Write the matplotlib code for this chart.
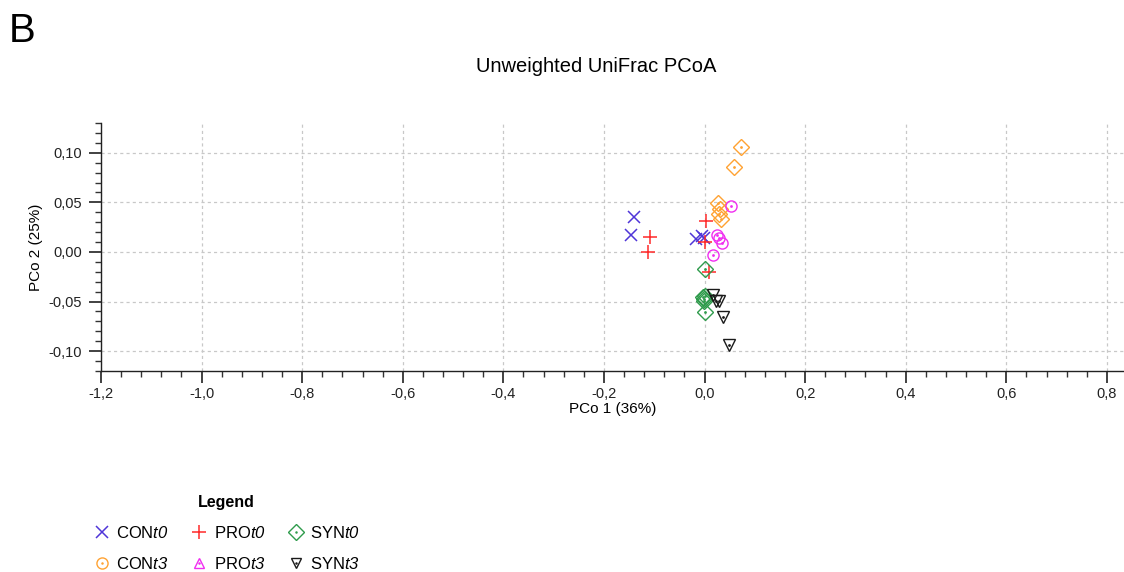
import matplotlib
matplotlib.use("Agg")
import matplotlib.pyplot as plt
from matplotlib.lines import Line2D
from matplotlib.ticker import MultipleLocator, FuncFormatter

plt.rcParams["font.family"] = ["Liberation Sans", "DejaVu Sans"]
plt.rcParams["mathtext.fontset"] = "custom"
plt.rcParams["mathtext.rm"] = "Liberation Sans"
plt.rcParams["mathtext.it"] = "Liberation Sans:italic"
# sans-serif math slot used for fully italic time-point suffixes
plt.rcParams["mathtext.sf"] = "Liberation Sans:italic"

# PCoA coordinates per group (PCo 1, PCo 2)
con_t0_x = [-0.140, -0.146, -0.017, -0.005, -0.002]
con_t0_y = [0.035, 0.017, 0.013, 0.016, 0.014]

pro_t0_x = [-0.109, -0.113, 0.003, 0.001, 0.008]
pro_t0_y = [0.015, 0.000, 0.031, 0.010, -0.020]

con_t3_x = [0.072, 0.059, 0.027, 0.030, 0.028, 0.032]
con_t3_y = [0.106, 0.086, 0.049, 0.043, 0.038, 0.033]

pro_t3_x = [0.052, 0.025, 0.029, 0.034, 0.017]
pro_t3_y = [0.046, 0.017, 0.014, 0.009, -0.003]

syn_t0_x = [0.001, -0.004, -0.002, -0.001, 0.000, 0.001]
syn_t0_y = [-0.017, -0.045, -0.047, -0.049, -0.044, -0.061]

syn_t3_x = [0.017, 0.023, 0.029, 0.037, 0.048]
syn_t3_y = [-0.043, -0.049, -0.049, -0.066, -0.094]

c_blue = "#4F35D8"
c_red = "#FF2A2A"
c_orange = "#FFA232"
c_magenta = "#F02EF0"
c_green = "#2F9B4C"
c_black = "#1A1A1A"

fig = plt.figure(figsize=(11.24, 5.72), dpi=100)
ax = fig.add_axes([101 / 1124, 1 - 371 / 572, 1 - 101 / 1124, (371 - 123) / 572])


def dotted(x, y, color, marker, ms):
    ax.plot(x, y, linestyle="none", marker=marker, ms=ms, mfc="none",
            mec=color, mew=1.0, zorder=3)
    ax.plot(x, y, linestyle="none", marker="o", ms=2.0, mfc=color,
            mec=color, mew=0, zorder=4)


ax.plot(con_t0_x, con_t0_y, linestyle="none", marker="x", ms=9, mec=c_blue,
        mew=1.1, zorder=3)
ax.plot(pro_t0_x, pro_t0_y, linestyle="none", marker="+", ms=10, mec=c_red,
        mew=1.1, zorder=3)
dotted(con_t3_x, con_t3_y, c_orange, "D", 8.5)
dotted(pro_t3_x, pro_t3_y, c_magenta, "o", 8)
dotted(syn_t0_x, syn_t0_y, c_green, "D", 8.5)
dotted(syn_t3_x, syn_t3_y, c_black, "v", 8)

ax.set_xlim(-1.2, 0.834)
ax.set_ylim(-0.12, 0.13)

ax.xaxis.set_major_locator(MultipleLocator(0.2))
ax.xaxis.set_minor_locator(MultipleLocator(0.04))
ax.yaxis.set_major_locator(MultipleLocator(0.05))
ax.yaxis.set_minor_locator(MultipleLocator(0.01))
ax.xaxis.set_major_formatter(FuncFormatter(lambda v, p: f"{v:.1f}".replace(".", ",").replace("-0,0", "0,0")))
ax.yaxis.set_major_formatter(FuncFormatter(lambda v, p: f"{v:.2f}".replace(".", ",").replace("-0,00", "0,00")))

for side in ("top", "right"):
    ax.spines[side].set_visible(False)
for side in ("left", "bottom"):
    ax.spines[side].set_linewidth(1.0)
    ax.spines[side].set_color("#222222")

ax.tick_params(which="major", length=8.6, width=1.3, color="#333333",
               labelsize=10.5, labelcolor="#222222", pad=3)
ax.tick_params(axis="y", which="major", pad=5)
ax.tick_params(which="minor", length=4.3, width=1.0, color="#333333")
ax.grid(True, which="major", color="#c8c8c8", linestyle=(0, (2.5, 2.5)),
        linewidth=0.9)
ax.set_axisbelow(True)

ax.set_xlabel("PCo 1 (36%)", fontsize=11, labelpad=1)
ax.set_ylabel("PCo 2 (25%)", fontsize=11, labelpad=4)

fig.text(596 / 1124, 1 - 66 / 572, "Unweighted UniFrac PCoA", fontsize=14.5,
         ha="center", va="center")
fig.text(9 / 1124, 1 - 31 / 572, "B", fontsize=29, ha="left", va="center")


def proxy(color, marker, ms, dot=False, mew=1.0):
    base = Line2D([], [], linestyle="none", marker=marker, ms=ms, mfc="none",
                  mec=color, mew=mew)
    if not dot:
        return base
    center = Line2D([], [], linestyle="none", marker="o", ms=1.8, mfc=color,
                    mec=color, mew=0)
    return (base, center)


handles = [
    proxy(c_blue, "x", 8, mew=1.1),
    proxy(c_orange, "o", 8, dot=True),
    proxy(c_red, "+", 10, mew=1.1),
    proxy(c_magenta, "^", 7, dot=True),
    proxy(c_green, "D", 8, dot=True),
    proxy(c_black, "v", 7, dot=True),
]
labels = [
    r"CON$\mathsf{t0}$", r"CON$\mathsf{t3}$",
    r"PRO$\mathsf{t0}$", r"PRO$\mathsf{t3}$",
    r"SYN$\mathsf{t0}$", r"SYN$\mathsf{t3}$",
]
leg = fig.legend(handles, labels, ncol=3, frameon=False, fontsize=12,
                 title="Legend", title_fontproperties={"weight": "bold", "size": 11.5},
                 loc="upper left", bbox_to_anchor=(85 / 1124, 1 - 487 / 572),
                 handlelength=1.0, handletextpad=0.35, columnspacing=1.35,
                 labelspacing=0.9, borderpad=0)

fig.savefig("out.png", dpi=100)
